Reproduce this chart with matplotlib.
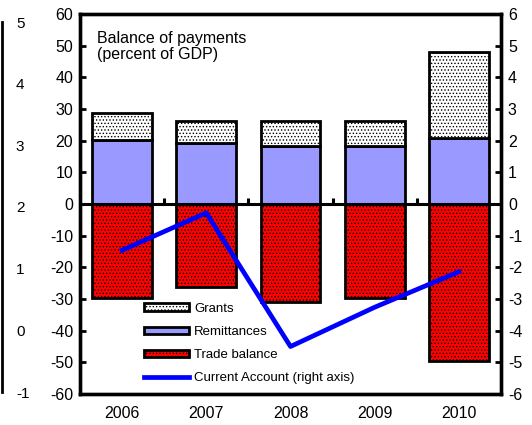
import matplotlib
matplotlib.use("Agg")
import matplotlib.pyplot as plt
from matplotlib.patches import Patch
from matplotlib.lines import Line2D
import numpy as np

plt.rcParams['font.family'] = ['Liberation Sans', 'DejaVu Sans']
plt.rcParams['hatch.linewidth'] = 0.6
plt.rcParams['axes.unicode_minus'] = False

years = ["2006", "2007", "2008", "2009", "2010"]
trade_balance = [-29.7, -26.3, -31.0, -29.6, -49.7]
remittances = [20.3, 19.3, 18.4, 18.4, 21.0]
grants = [8.5, 7.0, 7.9, 7.9, 27.0]
current_account = [-1.46, -0.28, -4.5, -3.26, -2.14]
left_ticks = [60, 50, 40, 30, 20, 10, 0, -10, -20, -30, -40, -50, -60]
right_ticks = [6, 5, 4, 3, 2, 1, 0, -1, -2, -3, -4, -5, -6]
prev_ticks = [5, 4, 3, 2, 1, 0, -1]

W, H = 532, 425
fig = plt.figure(figsize=(W / 100, H / 100), dpi=100)

# remnant of neighbouring chart at left edge
axp = fig.add_axes([-100 / W, (H - 392) / H, 102 / W, 370 / H])
axp.set_ylim(-1, 5)
for s in ['top', 'left', 'bottom']:
    axp.spines[s].set_visible(False)
axp.spines['right'].set_linewidth(2)
axp.set_xticks([])
axp.yaxis.tick_right()
axp.set_yticks(prev_ticks)
axp.tick_params(axis='y', length=0, labelsize=11, pad=10)

ax = fig.add_axes([80 / W, 31 / H, 421 / W, 380 / H])
x = np.arange(len(years))
bw = 0.71
hatch = '.....'
ax.bar(x, trade_balance, bw, color='#FF0000', edgecolor='black', linewidth=2, hatch=hatch, zorder=2)
ax.bar(x, remittances, bw, color='#9999FF', edgecolor='black', linewidth=2, zorder=2)
ax.bar(x, grants, bw, bottom=remittances, color='white', edgecolor='black', linewidth=2, hatch=hatch, zorder=2)
ax.axhline(0, color='black', lw=2.2, zorder=3)
ax.vlines(x[:-1] + 0.5, 0, 1.8, color='black', lw=2.2, zorder=3)

ax.set_xlim(-0.5, len(years) - 0.5)
ax.set_ylim(-60, 60)
ax.set_yticks(left_ticks)
ax.set_xticks(x)
ax.set_xticklabels(years)
ax.tick_params(axis='x', length=0, labelsize=11.5, pad=9)
ax.tick_params(axis='y', direction='in', length=4, width=2, labelsize=11.5, pad=5)
for s in ax.spines.values():
    s.set_linewidth(2.4)

ax2 = ax.twinx()
ax2.set_ylim(-6, 6)
ax2.set_yticks(right_ticks)
ax2.tick_params(axis='y', direction='in', length=4, width=2, labelsize=11.5, pad=5)
ax2.plot(x, current_account, color='#0000FF', lw=3.4, zorder=4)
for s in ax2.spines.values():
    s.set_linewidth(2.4)

ax.text(0.04, 0.955, "Balance of payments\n(percent of GDP)", transform=ax.transAxes,
        fontsize=11.5, va='top', ha='left', linespacing=1.1)

handles = [
    Patch(facecolor='white', edgecolor='black', linewidth=2, hatch=hatch, label='Grants'),
    Patch(facecolor='#9999FF', edgecolor='black', linewidth=2, label='Remittances'),
    Patch(facecolor='#FF0000', edgecolor='black', linewidth=2, hatch=hatch, label='Trade balance'),
    Line2D([], [], color='#0000FF', lw=3.4, label='Current Account (right axis)'),
]
leg = ax2.legend(handles=handles, loc='upper left', bbox_to_anchor=(0.152, 0.24),
                 frameon=False, fontsize=9.5, handlelength=3.4, handleheight=0.5,
                 labelspacing=0.85, handletextpad=0.4, borderpad=0, borderaxespad=0)

fig.savefig("out.png", dpi=100)
